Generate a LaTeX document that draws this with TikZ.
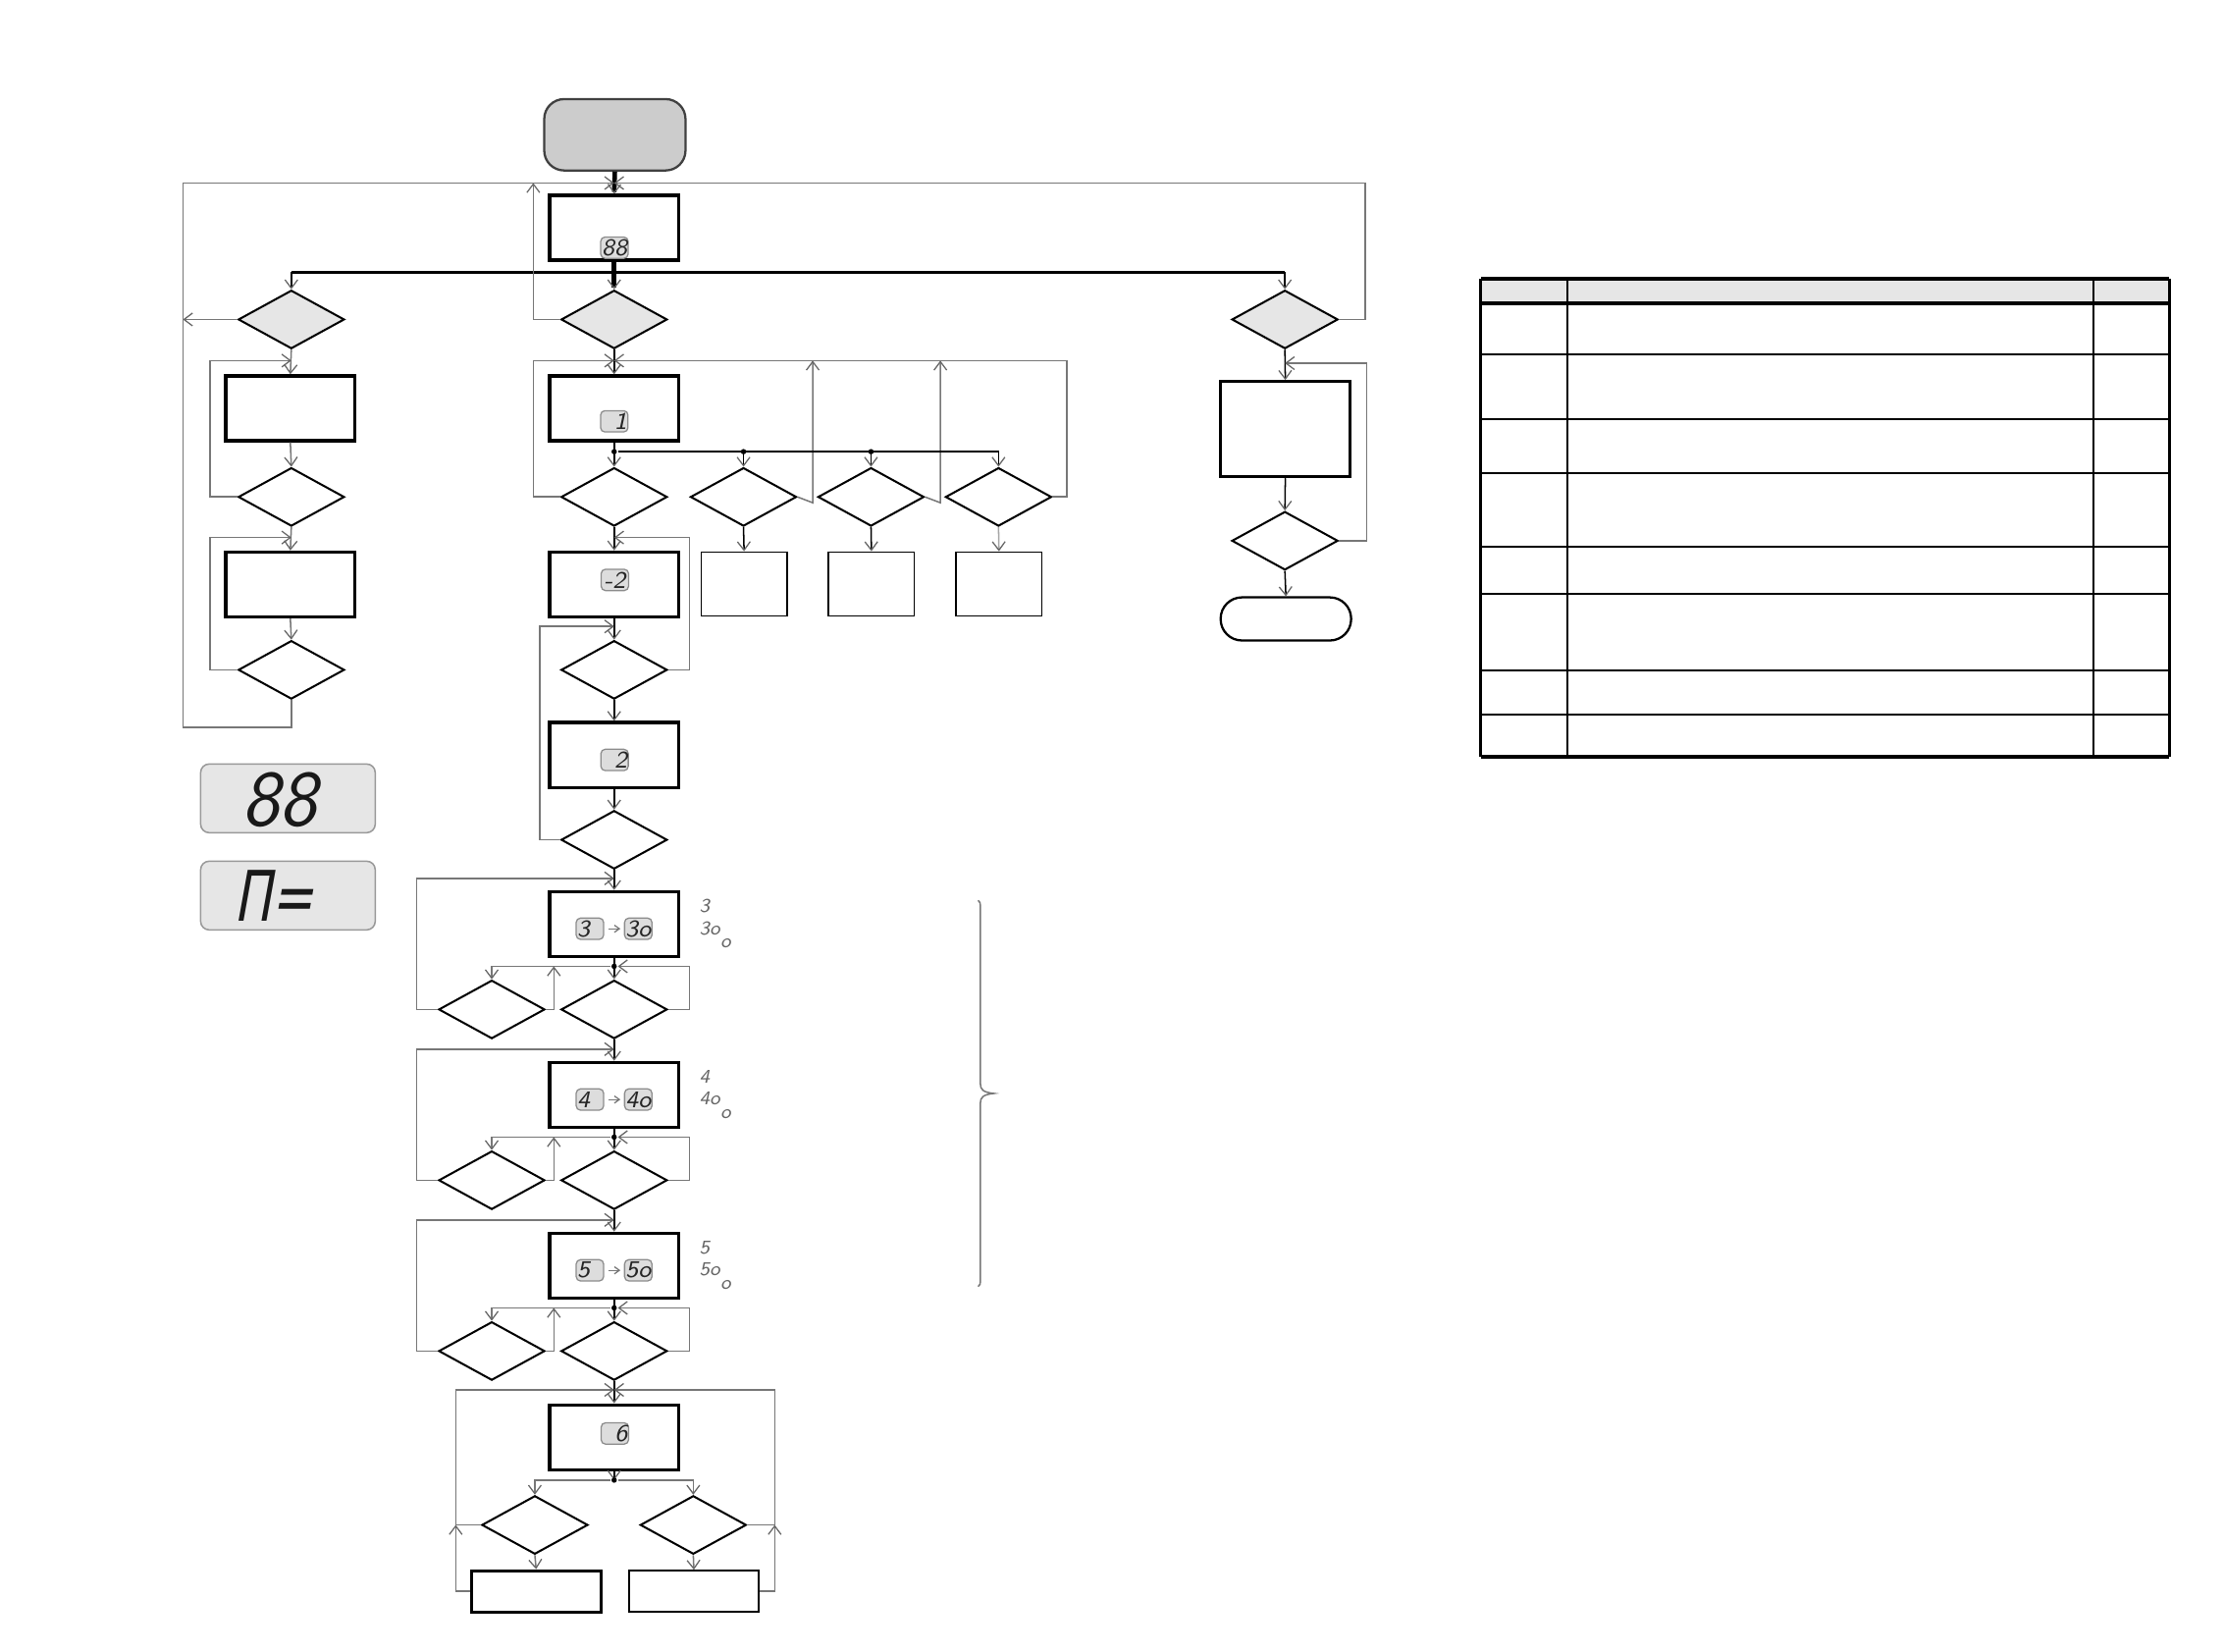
\documentclass[tikz,border=0pt]{standalone}
\usepackage{fontspec}
\newfontfamily\segfont{DejaVu Sans}[FakeSlant=0.18,FakeStretch=0.72]
\usetikzlibrary{shapes.geometric,arrows.meta}
\definecolor{lgray}{HTML}{E6E6E6}
\definecolor{tgray}{HTML}{CCCCCC}
\definecolor{lnk}{HTML}{777777}
\definecolor{dfill}{HTML}{DDDDDD}
\begin{document}
\begin{tikzpicture}[x=0.1mm,y=-0.1mm,
  >={Straight Barb[length=0.6mm,width=0.9mm,line width=0.25pt,color=black!60]},
  pbox/.style={draw,line width=0.65pt,minimum width=9.1mm,minimum height=4.57mm,inner sep=0pt},
  sbox/.style={draw,line width=0.35pt,minimum width=6.03mm,minimum height=4.5mm,inner sep=0pt},
  dec/.style={diamond,draw,line width=0.4pt,minimum width=7.48mm,minimum height=4.12mm,inner sep=0pt},
  gdec/.style={dec,fill=lgray},
  flowk/.style={draw=black,line width=0.3pt,->},
  thickflow/.style={draw=black,line width=0.9pt,->},
  back/.style={draw=lnk,line width=0.3pt,->},
  jdot/.style={circle,fill=black,inner sep=0pt,minimum size=0.38mm},
  disp/.style={draw=black!45,fill=dfill,rounded corners=0.3mm,line width=0.25pt,minimum width=1.93mm,minimum height=1.5mm,inner sep=0pt,font=\fontsize{4.8}{5}\selectfont\sffamily\slshape,text=black!85},
  side/.style={font=\fontsize{3.9}{4}\selectfont\sffamily\slshape,text=black!60,inner sep=0pt},
  darr/.style={draw=lnk,line width=0.25pt,-{Straight Barb[length=0.35mm,width=0.5mm]},shorten <=0.3mm,shorten >=0.25mm},
  panel/.style={draw=black!40,fill=lgray,rounded corners=0.6mm,line width=0.3pt,minimum width=12.31mm,minimum height=4.84mm,inner sep=0pt},
]
\useasboundingbox (0,0) rectangle (1568,1164);

% ---------- top ----------
\node[draw=black!75,fill=tgray,line width=0.45pt,rounded corners=1.4mm,minimum width=9.96mm,minimum height=5.03mm,inner sep=0pt] (start) at (433.5,95) {};
\node[pbox] (boxA) at (433,160.6) {};
\node[disp] (dA) at (433.2,174.6) {88};
\coordinate (tj) at (433,129);

\node[gdec] (L1) at (205.4,225.2) {};
\node[gdec] (C1) at (433,225.2) {};
\node[gdec] (R1) at (905.9,225.2) {};

\draw[thickflow] (start.south) -- (boxA.north);
\draw[thickflow] (boxA.south) -- (C1.north);
\node[jdot] (jA) at (433,191.9) {};
\draw[draw=black,line width=0.5pt] (205.4,191.9) -- (905.9,191.9);
\draw[flowk] (jA) -| (L1.north);
\draw[flowk] (jA) -| (R1.north);

% big loops
\draw[back] (L1.west) -- (129,225.2);
\draw[back] (C1.west) -- (376,225.2) -- (376,129);
\draw[back] (R1.east) -- (962.5,225.2) -- (962.5,129) -- (tj);

% ---------- left column ----------
\node[pbox] (L2) at (204.7,287.8) {};
\node[dec] (L3) at (205.4,350.3) {};
\node[pbox] (L4) at (204.7,412) {};
\node[dec] (L5) at (205.4,472.2) {};
\draw[back] (L1.south) -- (L2.north);
\draw[back] (L2.south) -- (L3.north);
\draw[back] (L3.west) -- (148,350.3) -- (148,254.2) -- (205.4,254.2);
\draw[back] (L3.south) -- (L4.north);
\draw[back] (L4.south) -- (L5.north);
\draw[back] (L5.west) -- (148,472.2) -- (148,378.9) -- (205.4,378.9);
\draw[back] (L5.south) -- (205.4,512.7) -- (129,512.7) -- (129,129) -- (tj);

% ---------- center column ----------
\node[pbox] (C2) at (433,287.8) {};
\node[disp] (d1) at (433.1,297) {\hphantom{8}1};
\node[dec] (C3) at (433,350.3) {};
\node[dec] (C4) at (524.2,350.3) {};
\node[dec] (C5) at (614.1,350.3) {};
\node[dec] (C6) at (704,350.3) {};
\node[sbox] (C4b) at (524.6,411.7) {};
\node[sbox] (C5b) at (614.4,411.7) {};
\node[sbox] (C6b) at (704.3,411.7) {};
\node[pbox] (C7) at (433,412) {};
\node[disp] (d2a) at (433.5,408.8) {-2};
\node[dec] (C8) at (433,472.2) {};
\node[pbox] (C9) at (433,532.2) {};
\node[disp] (d2b) at (433.3,535.7) {\hphantom{8}2};
\node[dec] (C10) at (433,592) {};

\draw[flowk] (C1.south) -- (C2.north);
\draw[back] (C3.west) -- (376,350.3) -- (376,254.2) -- (433,254.2);
\draw[back] (C6.east) -- (752,350.3) -- (752,254.2) -- (433,254.2);
\draw[back] (C4.east) -- (573,354.4) -- (573,254.2);
\draw[back] (C5.east) -- (663,354.4) -- (663,254.2);
\draw[flowk] (C2.south) -- (C3.north);
\node[jdot] (jB) at (433,318.4) {};
\node[jdot] (jB2) at (524.2,318.4) {};
\node[jdot] (jB3) at (614.1,318.4) {};
\draw[flowk] (jB) -| (C4.north);
\draw[flowk] (jB) -| (C5.north);
\draw[flowk] (jB) -| (C6.north);
\draw[flowk] (C4.south) -- (C4b.north);
\draw[flowk] (C5.south) -- (C5b.north);
\draw[flowk,draw=black!35] (C6.south) -- (C6b.north);
\draw[flowk] (C3.south) -- (C7.north);
\draw[back] (C8.east) -- (486,472.2) -- (486,378.9) -- (433,378.9);
\draw[flowk] (C7.south) -- (C8.north);
\draw[back] (C10.west) -- (380.5,592) -- (380.5,441.6) -- (433,441.6);
\draw[flowk] (C8.south) -- (C9.north);
\draw[flowk] (C9.south) -- (C10.north);

% ---------- level 3 ----------
\node[pbox] (C11) at (433,651.4) {};
\node[disp] (d3a) at (415.9,654.7) {3\hphantom{8}};
\node[disp] (d3b) at (450,654.7) {3o};
\draw[darr] (d3a) -- (d3b);
\node[side,anchor=west] (s3a) at (492.4,638.7) {3};
\node[side,anchor=west] (s3b) at (492.4,654.3) {3o};
\node[side] (s3c) at (511.6,664.7) {o};
\node[dec] (D1) at (346.7,711.6) {};
\node[dec] (D2) at (433,711.6) {};
\draw[flowk] (C10.south) -- (C11.north);
\draw[flowk] (C11.south) -- (D2.north);
\node[jdot] (jD1) at (433,681.2) {};
\draw[back] (jD1) -| (D1.north);
\draw[back] (D1.east) -- (390.5,711.6) -- (390.5,681.2);
\draw[back] (D2.east) -- (486,711.6) -- (486,681.2) -- (jD1);
\draw[back] (D1.west) -- (293.6,711.6) -- (293.6,619.2) -- (433,619.2);

% ---------- level 4 ----------
\node[pbox] (C12) at (433,771.8) {};
\node[disp] (d4a) at (415.9,775.1) {4\hphantom{8}};
\node[disp] (d4b) at (450,775.1) {4o};
\draw[darr] (d4a) -- (d4b);
\node[side,anchor=west] (s4a) at (492.4,759.1) {4};
\node[side,anchor=west] (s4b) at (492.4,774.7) {4o};
\node[side] (s4c) at (511.6,785.1) {o};
\node[dec] (D3) at (346.7,832) {};
\node[dec] (D4) at (433,832) {};
\draw[flowk] (D2.south) -- (C12.north);
\draw[flowk] (C12.south) -- (D4.north);
\node[jdot] (jD2) at (433,801.6) {};
\draw[back] (jD2) -| (D3.north);
\draw[back] (D3.east) -- (390.5,832) -- (390.5,801.6);
\draw[back] (D4.east) -- (486,832) -- (486,801.6) -- (jD2);
\draw[back] (D3.west) -- (293.6,832) -- (293.6,739.6) -- (433,739.6);

% ---------- level 5 ----------
\node[pbox] (C13) at (433,892.2) {};
\node[disp] (d5a) at (415.9,895.5) {5\hphantom{8}};
\node[disp] (d5b) at (450,895.5) {5o};
\draw[darr] (d5a) -- (d5b);
\node[side,anchor=west] (s5a) at (492.4,879.5) {5};
\node[side,anchor=west] (s5b) at (492.4,895.1) {5o};
\node[side] (s5c) at (511.6,905.5) {o};
\node[dec] (D5) at (346.7,952.4) {};
\node[dec] (D6) at (433,952.4) {};
\draw[flowk] (D4.south) -- (C13.north);
\draw[flowk] (C13.south) -- (D6.north);
\node[jdot] (jD3) at (433,922) {};
\draw[back] (jD3) -| (D5.north);
\draw[back] (D5.east) -- (390.5,952.4) -- (390.5,922);
\draw[back] (D6.east) -- (486,952.4) -- (486,922) -- (jD3);
\draw[back] (D5.west) -- (293.6,952.4) -- (293.6,860) -- (433,860);

% brace
\draw[draw=lnk,line width=0.3pt] (689.6,634.7) .. controls (691,635) and (691.2,637) .. (691.2,640) -- (691.2,764) .. controls (691.2,768) and (693,770) .. (700.7,770.8) .. controls (693,771.6) and (691.2,773.6) .. (691.2,777.6) -- (691.2,901.5) .. controls (691.2,905) and (691,906.6) .. (689.6,906.9);

% ---------- level 6 ----------
\node[pbox] (C14) at (433,1013.2) {};
\node[disp] (d6) at (433.5,1010.5) {\hphantom{8}6};
\node[dec] (E2) at (377.1,1075) {};
\node[dec] (E3) at (488.8,1075) {};
\node[pbox,minimum width=9.12mm,minimum height=2.9mm] (E4) at (378,1121.8) {};
\node[draw,line width=0.4pt,minimum width=9.09mm,minimum height=2.9mm,inner sep=0pt] (E5) at (489.2,1121.8) {};
\draw[flowk] (D6.south) -- (C14.north);
\draw[flowk] (C14.south) -- (433,1043.4);
\node[jdot] (jE) at (433,1043.4) {};
\draw[back] (jE) -| (E2.north);
\draw[back] (jE) -| (E3.north);
\draw[back] (E2.south) -- (E4.north);
\draw[back] (E3.south) -- (E5.north);
\draw[back] (E4.west) -- (321.3,1121.8) -- (321.3,1075);
\draw[back] (E2.west) -- (321.3,1075) -- (321.3,979.8) -- (433,979.8);
\draw[back] (E5.east) -- (546.2,1121.8) -- (546.2,1075);
\draw[back] (E3.east) -- (546.2,1075) -- (546.2,979.8) -- (433,979.8);

% ---------- right column ----------
\node[pbox,minimum width=9.13mm,minimum height=6.7mm] (R2) at (906.2,302.5) {};
\node[dec] (R3) at (905.9,381.2) {};
\node[draw,line width=0.45pt,rounded corners=1.5mm,minimum width=9.2mm,minimum height=3.04mm,inner sep=0pt] (end) at (906.6,436.3) {};
\draw[flowk] (R1.south) -- (R2.north);
\draw[flowk] (R2.south) -- (R3.north);
\draw[flowk] (R3.south) -- (end.north);
\draw[back] (R3.east) -- (963.4,381.2) -- (963.4,256) -- (905.9,256);

% ---------- display panels ----------
\node[panel] (P1) at (203,562.8) {};
\node[inner sep=0pt,font=\fontsize{16}{16}\selectfont\sffamily\slshape,text=black!90] (P1t) at (197,563.5) {88};
\node[panel] (P2) at (203,631.3) {};
\node[inner sep=0pt,font=\fontsize{14}{14}\selectfont\segfont,text=black!90] (P2t) at (193,631.5) {П=};

% ---------- table ----------
\fill[lgray] (1044,196.5) rectangle (1529.5,213.8);
\foreach \yy in {249.8,295.5,333.5,385.4,418.6,472.8,503.9}
  \draw[line width=0.45pt] (1044,\yy) -- (1529.5,\yy);
\draw[line width=0.5pt] (1105.2,196.5) -- (1105.2,533.5) (1475.9,196.5) -- (1475.9,533.5);
\draw[line width=0.6pt] (1044,196.5) -- (1044,533.5) (1529.5,196.5) -- (1529.5,533.5);
\draw[line width=0.85pt] (1044,196.5) -- (1529.5,196.5) (1044,213.8) -- (1529.5,213.8) (1044,533.5) -- (1529.5,533.5);
\end{tikzpicture}
\end{document}
